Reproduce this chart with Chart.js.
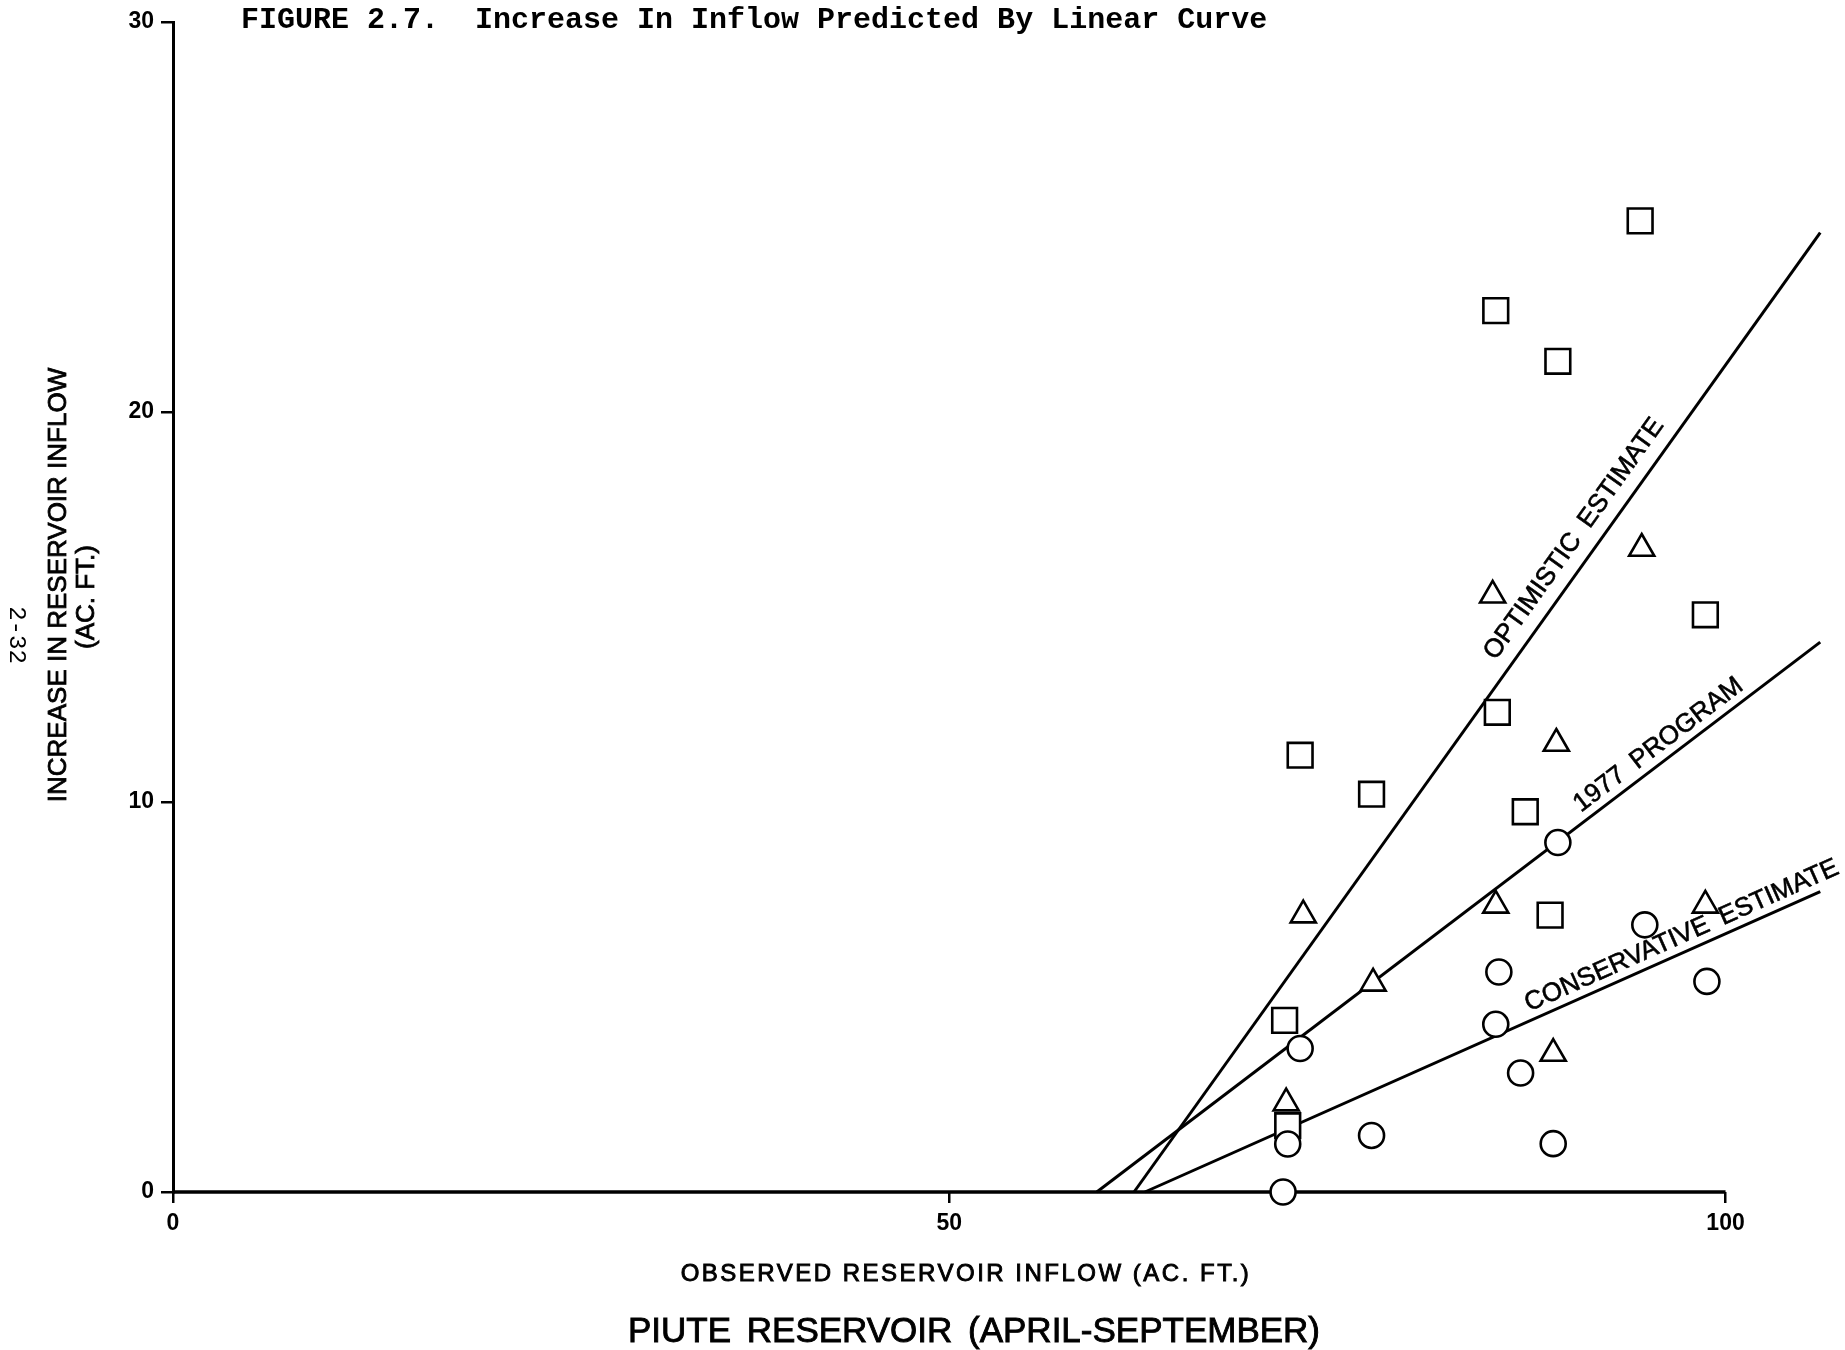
<!DOCTYPE html>
<html>
<head>
<meta charset="utf-8">
<title>Figure 2.7 - Piute Reservoir</title>
<script src="https://cdn.jsdelivr.net/npm/chart.js@4.4.1/dist/chart.umd.min.js"></script>
<style>
  body { margin: 0; background: #fff; }
  #chart { display: block; }
</style>
</head>
<body>
<canvas id="chart" width="1845" height="1350"></canvas>
<script>
// values (x = observed inflow, y = increase in inflow, ac. ft.)
const xTicks = [0, 50, 100];
const yTicks = [0, 10, 20, 30];

// optimistic estimate points
const squareX = [94.5, 85.2, 89.2, 98.7, 85.3, 72.6, 77.2, 87.1, 88.7, 71.6, 71.8];
const squareY = [24.9, 22.6, 21.3, 14.8, 12.3, 11.2, 10.2, 9.75, 7.1, 4.4, 1.7];

// 1977 program points
const triangleX = [94.6, 85.0, 89.1, 72.8, 85.2, 98.7, 77.3, 88.9, 71.7];
const triangleY = [16.5, 15.3, 11.5, 7.1, 7.35, 7.35, 5.35, 3.55, 2.28];

// conservative estimate points
const circleX = [89.2, 94.8, 85.4, 98.8, 85.2, 72.6, 86.8, 77.2, 88.9, 71.8, 71.5];
const circleY = [8.96, 6.85, 5.64, 5.4, 4.3, 3.68, 3.05, 1.45, 1.24, 1.23, 0];

// fitted lines (end points)
const optimisticX = [61.9, 106.1];
const optimisticY = [0, 24.6];
const programX = [59.5, 106.1];
const programY = [0, 14.1];
const conservativeX = [62.6, 106.1];
const conservativeY = [0, 7.7];

// the drawn x axis stops at 100
const baseX = [0, 100];
const baseY = [0, 0];

const toPoints = (xs, ys) => xs.map((v, i) => ({ x: v, y: ys[i] }));

const SANS = "'Liberation Sans', Arial, sans-serif";

// fill plus a thin stroke, closer to the pen lettering
const inkText = (ctx, txt, x, y, weight) => {
  ctx.fillText(txt, x, y);
  if (weight) {
    ctx.lineWidth = weight;
    ctx.strokeStyle = '#000';
    ctx.strokeText(txt, x, y);
  }
};

// text along the fitted lines
const lineLabels = {
  id: 'lineLabels',
  afterDatasetsDraw(chart) {
    const { ctx, scales: { x, y } } = chart;
    chart.data.datasets.forEach(ds => {
      const lab = ds.curveLabel;
      if (!lab) return;
      const a = ds.data[0], b = ds.data[ds.data.length - 1];
      const x0 = x.getPixelForValue(a.x), y0 = y.getPixelForValue(a.y);
      const x1 = x.getPixelForValue(b.x), y1 = y.getPixelForValue(b.y);
      const t = (x.getPixelForValue(lab.at) - x0) / (x1 - x0);
      const px = x0 + t * (x1 - x0), py = y0 + t * (y1 - y0);
      ctx.save();
      ctx.translate(px, py);
      ctx.rotate(Math.atan2(y1 - y0, x1 - x0));
      ctx.font = `26px ${SANS}`;
      ctx.fillStyle = '#000';
      ctx.textAlign = 'center';
      ctx.textBaseline = 'middle';
      if ('wordSpacing' in ctx) ctx.wordSpacing = '6px';
      inkText(ctx, lab.text, 0, -lab.offset, 0.6);
      ctx.restore();
    });
  }
};

// figure caption, axis titles, page number
const pageText = {
  id: 'pageText',
  afterDraw(chart) {
    const { ctx } = chart;
    const put = (txt, x, y, font, opts = {}) => {
      ctx.save();
      ctx.translate(x, y);
      if (opts.rot) ctx.rotate(opts.rot);
      ctx.font = font;
      ctx.fillStyle = '#000';
      ctx.textAlign = opts.align || 'center';
      ctx.textBaseline = opts.baseline || 'middle';
      if (opts.spacing && 'letterSpacing' in ctx) ctx.letterSpacing = opts.spacing;
      if (opts.words && 'wordSpacing' in ctx) ctx.wordSpacing = opts.words;
      inkText(ctx, txt, 0, 0, opts.ink || 0);
      ctx.restore();
    };
    put('FIGURE 2.7.  Increase In Inflow Predicted By Linear Curve', 241, 28,
      "bold 30px 'Liberation Mono', 'Courier New', monospace", { align: 'left', baseline: 'alphabetic' });
    put('INCREASE IN RESERVOIR INFLOW', 59, 585, `26px ${SANS}`, { rot: -Math.PI / 2, ink: 0.8 });
    put('(AC. FT.)', 87, 597, `26px ${SANS}`, { rot: -Math.PI / 2, ink: 0.8 });
    put('OBSERVED RESERVOIR INFLOW (AC. FT.)', 966, 1274, `24px ${SANS}`, { spacing: '2.5px', ink: 0.9 });
    put('PIUTE RESERVOIR (APRIL-SEPTEMBER)', 974, 1332, `35px ${SANS}`, { ink: 0.9, words: '6px' });
    put('2-32', 16, 635, "24px 'Liberation Mono', 'Courier New', monospace", { rot: Math.PI / 2 });
  }
};

const marker = (style, r) => ({
  showLine: false,
  pointStyle: style,
  pointRadius: r,
  pointBorderColor: '#000',
  pointBackgroundColor: '#fff',
  pointBorderWidth: 2.6,
  clip: false
});

const line = (extra) => Object.assign({
  showLine: true,
  borderColor: '#000',
  borderWidth: 3,
  pointRadius: 0,
  clip: false
}, extra);

new Chart(document.getElementById('chart'), {
  type: 'scatter',
  data: {
    datasets: [
      // first dataset is painted last
      Object.assign({ label: 'Conservative', data: toPoints(circleX, circleY) }, marker('circle', 12.5)),
      Object.assign({ label: '1977', data: toPoints(triangleX, triangleY) }, marker('triangle', 14.5)),
      Object.assign({ label: 'Optimistic', data: toPoints(squareX, squareY) }, marker('rect', 17.5)),
      line({ label: 'Optimistic estimate', data: toPoints(optimisticX, optimisticY),
        curveLabel: { text: 'OPTIMISTIC ESTIMATE', at: 91.4, offset: 22 } }),
      line({ label: '1977 program', data: toPoints(programX, programY),
        curveLabel: { text: '1977 PROGRAM', at: 96.3, offset: 16 } }),
      line({ label: 'Conservative estimate', data: toPoints(conservativeX, conservativeY),
        curveLabel: { text: 'CONSERVATIVE ESTIMATE', at: 97.6, offset: 16 } }),
      line({ label: 'axis', data: toPoints(baseX, baseY), borderWidth: 3.5 })
    ]
  },
  options: {
    responsive: false,
    animation: false,
    devicePixelRatio: 1,
    layout: { padding: { top: 22, right: 0, left: 0, bottom: 0 } },
    plugins: {
      legend: { display: false },
      tooltip: { enabled: false },
      title: { display: false }
    },
    scales: {
      x: {
        type: 'linear',
        min: 0,
        max: 106.4,
        afterBuildTicks: s => { s.ticks = xTicks.map(v => ({ value: v })); },
        afterFit: s => { s.height = 158; },
        grid: { drawOnChartArea: false, drawTicks: true, tickLength: 11, color: '#000', lineWidth: 2.5 },
        border: { display: false },
        ticks: { color: '#000', padding: 7, maxRotation: 0, font: { family: SANS, size: 23, weight: 'bold' } }
      },
      y: {
        type: 'linear',
        min: 0,
        max: 30,
        afterBuildTicks: s => { s.ticks = yTicks.map(v => ({ value: v })); },
        afterFit: s => { s.width = 173; },
        grid: { drawOnChartArea: false, drawTicks: true, tickLength: 12, color: '#000', lineWidth: 2.5 },
        border: { display: true, color: '#000', width: 3 },
        ticks: { color: '#000', padding: 7, font: { family: SANS, size: 23, weight: 'bold' } }
      }
    }
  },
  plugins: [lineLabels, pageText]
});
</script>
</body>
</html>
